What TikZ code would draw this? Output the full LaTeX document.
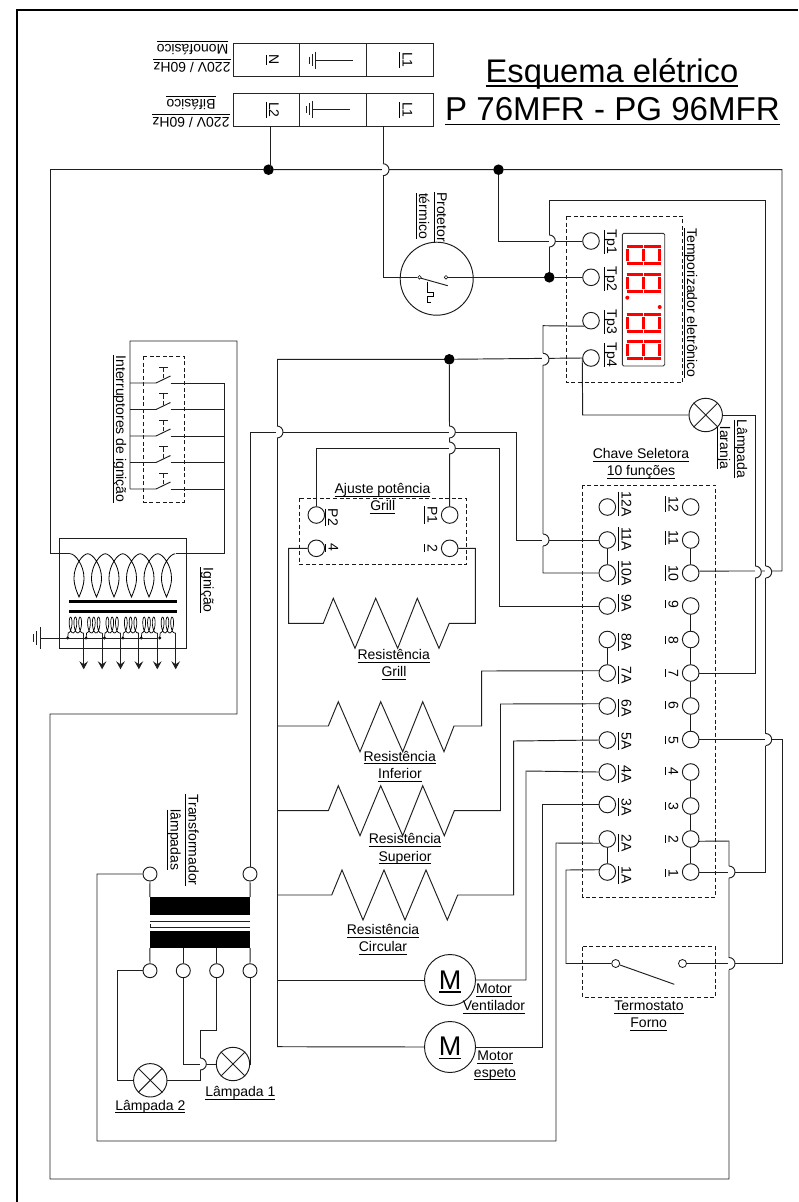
\documentclass[tikz,border=0pt]{standalone}
\usepackage{fontspec}
\setmainfont{Liberation Sans}
\usetikzlibrary{arrows.meta}
\newcommand\ulgen[3]{\setbox0\hbox{#3}\rlap{\vrule width\wd0 height -#1 depth #2}\box0}
\newcommand\ul[1]{\ulgen{2.2pt}{3.2pt}{#1}}
\newcommand\hop[2]{%
  \fill[white] (#1,#2-6) arc[start angle=-90,end angle=90,radius=6] -- cycle;
  \draw[white,line width=1.6pt] (#1,#2-6) -- (#1,#2+6);
  \draw[wire] (#1,#2-6) arc[start angle=-90,end angle=90,radius=6];}
\newcommand\dig[1]{%
  \foreach \qy in {#1+1.75,#1+18.25}{
    \draw[seg] (626.5,\qy) -- (642.7,\qy);
    \draw[seg] (644.3,\qy) -- (660.5,\qy);}
  \foreach \qx in {627.75,643.5,659.25}
    \draw[seg] (\qx,#1+4.3) -- (\qx,#1+15.7);}
\begin{document}
\begin{tikzpicture}[x=1pt,y=-1pt,
  wire/.style={line width=0.95pt,draw=black!88},
  thin wire/.style={line width=0.8pt,draw=black},
  link/.style={line width=1.4pt,draw=black!90},
  term/.style={circle,draw=black!90,line width=0.95pt,inner sep=0pt,minimum size=16.6pt},
  tsmall/.style={circle,draw=black!90,line width=0.95pt,inner sep=0pt,minimum size=14pt},
  contact/.style={circle,draw=black!90,line width=0.6pt,inner sep=0pt,minimum size=3.6pt},
  thermo/.style={circle,draw=black!90,line width=0.8pt,inner sep=0pt,minimum size=8pt},
  junction/.style={circle,fill=black,inner sep=0pt,minimum size=10.6pt},
  tinydot/.style={circle,fill=black,inner sep=0pt,minimum size=3.2pt},
  lamp/.style={circle,draw=black!90,line width=0.95pt,inner sep=0pt,minimum size=33.4pt},
  motor/.style={circle,draw=black!90,line width=0.95pt,inner sep=0pt,minimum size=51pt},
  cell/.style={rectangle,draw=black!85,line width=0.95pt,inner sep=0pt,minimum width=66.7pt,minimum height=33pt},
  corebar/.style={rectangle,fill=black,inner sep=0pt,minimum width=100pt,minimum height=17.2pt},
  dbox/.style={draw=black!90,line width=0.85pt,dash pattern=on 4pt off 2.6pt},
  lab/.style={inner sep=0pt,font=\fontsize{14}{17}\selectfont,text height=10pt,text depth=3pt},
  labr/.style={lab,rotate=-90},
  labf/.style={lab,rotate=180},
  titl/.style={inner sep=0pt,anchor=base},
  seg/.style={draw=red,line width=3.4pt},
  arrowwire/.style={wire,-{Stealth[length=8pt,width=8.6pt,inset=3pt]}}
]
\useasboundingbox (0,0) rectangle (798,1202);
% sheet border
\coordinate (frameA) at (17,1202); \coordinate (frameB) at (17,10); \coordinate (frameC) at (798,10);
\draw[line width=1.4pt] (frameA) -- (frameB) -- (frameC);

% title
\node[titl,font=\fontsize{32.7}{36}\selectfont] (title1) at (612,82) {\ulgen{3.2pt}{4.6pt}{Esquema elétrico}};
\node[titl,font=\fontsize{33.1}{36}\selectfont] (title2) at (612.5,120.7) {\ulgen{3.2pt}{4.6pt}{P 76MFR - PG 96MFR}};

% supply terminal strips
\node[cell] (monoN) at (266.5,60) {}; \node[cell] (monoG) at (333.2,60) {}; \node[cell] (monoL) at (399.8,60) {};
\node[cell] (biL2) at (266.5,109.7) {}; \node[cell] (biG) at (333.2,109.7) {}; \node[cell] (biL1) at (399.8,109.7) {};
\node[labr] (lN) at (272.5,60) {\ul{N}};
\node[labr] (lL1a) at (406,60) {\ul{L1}};
\node[labr] (lL2) at (272.5,110) {\ul{L2}};
\node[labr] (lL1b) at (406,110) {\ul{L1}};
\node[labf] (lV1) at (192,65.5) {\ul{220V / 60Hz}};
\node[labf] (lMono) at (192.5,48) {\ul{Monofásico}};
\node[labf] (lV2) at (191,120.5) {\ul{220V / 60Hz}};
\node[labf] (lBi) at (191,103) {\ul{Bifásico}};
% earth symbols in strips
\draw[wire] (315.5,60) -- (353,60);
\draw[wire] (315.5,51.5) -- (315.5,68.5); \draw[wire] (312.2,54) -- (312.2,66); \draw[wire] (309.2,56.5) -- (309.2,63.5);
\draw[wire] (312.5,109.3) -- (350,109.3);
\draw[wire] (312.5,100.8) -- (312.5,117.8); \draw[wire] (309.2,103.3) -- (309.2,115.3); \draw[wire] (306.2,105.8) -- (306.2,112.8);

% junctions
\node[junction] (j1) at (268.5,169.7) {};
\node[junction] (j2) at (498.5,169.7) {};
\node[junction] (j3) at (549.3,277.3) {};
\node[junction] (j4) at (449.3,359.3) {};

% thermal protector
\node[circle,draw=black!90,line width=0.95pt,inner sep=0pt,minimum size=73pt] (prot) at (436.7,278.7) {};
\node[contact] (pc1) at (419.5,277.3) {};
\node[contact] (pc2) at (446,277.3) {};
\coordinate (blade0) at (421,278.2); \coordinate (blade1) at (447.7,285.7);
\draw[wire] (blade0) -- (blade1);
\draw[line width=1.1pt] (427.7,281.5) -- (427.7,292.7) -- (433.3,292.7) -- (433.3,296.7) -- (427.7,296.7) -- (427.7,302.7) -- (431,302.7);
\node[labr] (lProt1) at (440.5,217) {\ul{Protetor}};
\node[labr] (lProt2) at (422.5,216) {\ul{térmico}};

% timer
\node[term] (Tp1) at (591,241) {};
\node[term] (Tp2) at (591,277.3) {};
\node[term] (Tp3) at (591,320.7) {};
\node[term] (Tp4) at (591,358) {};
\draw[dbox] (566,216) rectangle (682.7,382.3);
\foreach \t/\yy in {Tp1/242,Tp2/279,Tp3/322,Tp4/355}
  \node[labr] (l\t) at (610.5,\yy) {\ul{\t}};
\node[labr] (lTemp) at (690.5,303) {\ul{Temporizador eletrônico}};
\draw[draw=black!80,line width=0.9pt,rounded corners=1.5pt] (622.3,233.3) rectangle (664.7,366);
\dig{245} \dig{273} \dig{313} \dig{340}
\fill[red] (627.3,297.7) circle[radius=2];
\fill[red] (659.7,307) circle[radius=2];

% lamp orange
\node[lamp] (lampO) at (705.7,415) {};
\draw[wire] (lampO.45) -- (lampO.225); \draw[wire] (lampO.135) -- (lampO.315);
\node[labr] (lLam1) at (740.5,448.7) {\ul{Lâmpada}};
\node[labr] (lLam2) at (723.5,448) {\ul{laranja}};

% selector switch
\foreach \n/\yy in {12/507,11/540,10/573,9/606,8/639.5,7/673,6/706,5/740,4/772,3/804.5,2/839,1/872}
  \node[term] (A\n) at (607.3,\yy) {};
\foreach \n/\yy in {12/507,11/540,10/573,9/606,8/639.5,7/673,6/706,5/739.5,4/772,3/806,2/839,1/872}
  \node[term] (R\n) at (690.7,\yy) {};
\draw[dbox] (582.5,485) rectangle (715.5,897.5);
\foreach \t/\yy in {12A/504,11A/539,10A/573,9A/603,8A/642,7A/675,6A/708,5A/741,4A/774,3A/807,2A/843,1A/875}
  \node[labr] (l\t) at (625,\yy) {\ul{\t}};
\foreach \t/\yy in {12/504,11/538,10/573,9/604,8/640,7/673,6/705,5/740,4/771,3/806,2/839,1/873}
  \node[labr] (lr\t) at (672,\yy) {\ul{\t}};
\node[lab] (lChave1) at (641,455) {\ul{Chave Seletora}};
\node[lab] (lChave2) at (641,472) {\ul{10 funções}};
\draw[link] (A11) -- (A10); \draw[link] (A8) -- (A7); \draw[link] (A2) -- (A1);
\draw[link] (R11) -- (R10); \draw[link] (R9) -- (R8); \draw[link] (R8) -- (R7); \draw[link] (R7) -- (R6); \draw[link] (R6) -- (R5);
\draw[link] (R4) -- (R3); \draw[link] (R3) -- (R2); \draw[link] (R2) -- (R1);

% grill power adjust
\node[term] (P2) at (316.3,515) {};
\node[term] (P4) at (316.3,548.3) {};
\node[term] (P1) at (449.7,515) {};
\node[term] (Pb) at (449.7,548.3) {};
\draw[dbox] (299.5,498.3) rectangle (466.3,564.7);
\node[lab] (lAj1) at (382.5,490) {\ul{Ajuste potência}};
\node[lab] (lAj2) at (382.7,507) {\ul{Grill}};
\node[labr] (lP2) at (331.5,517.5) {\ul{P2}};
\node[labr] (lP4) at (332,547.7) {\ul{4}};
\node[labr] (lP1) at (431,515) {\ul{P1}};
\node[labr] (lPb) at (431,548) {\ul{2}};

% oven thermostat
\node[thermo] (TS1) at (615.7,963.5) {};
\node[thermo] (TS2) at (682.5,963.5) {};
\draw[dbox] (582.5,946.5) rectangle (715.5,997);
\coordinate (tsb0) at (620,965); \coordinate (tsb1) at (674.3,984.3);
\draw[wire] (tsb0) -- (tsb1);
\node[lab] (lTerm1) at (649,1007) {\ul{Termostato}};
\node[lab] (lTerm2) at (648.7,1024) {\ul{Forno}};

% motors
\node[motor] (M1) at (450,980) {};
\node[motor] (M2) at (450,1047) {};
\node[inner sep=0pt,anchor=base,font=\fontsize{27}{30}\selectfont] (M1t) at (450,989) {\ulgen{2.4pt}{3.6pt}{M}};
\node[inner sep=0pt,anchor=base,font=\fontsize{27}{30}\selectfont] (M2t) at (450,1055.5) {\ulgen{2.4pt}{3.6pt}{M}};
\node[lab] (lM1a) at (494,990) {\ul{Motor}};
\node[lab] (lM1b) at (494,1007) {\ul{Ventilador}};
\node[lab] (lM2a) at (495.3,1057) {\ul{Motor}};
\node[lab] (lM2b) at (495,1073.7) {\ul{espeto}};

% heater labels
\node[lab] (lRG1) at (393.7,656) {\ul{Resistência}};
\node[lab] (lRG2) at (394,673) {\ul{Grill}};
\node[lab] (lRI1) at (399.7,757.7) {\ul{Resistência}};
\node[lab] (lRI2) at (400,775) {\ul{Inferior}};
\node[lab] (lRS1) at (405,840) {\ul{Resistência}};
\node[lab] (lRS2) at (405,857.7) {\ul{Superior}};
\node[lab] (lRC1) at (383,931) {\ul{Resistência}};
\node[lab] (lRC2) at (383,948) {\ul{Circular}};

% lamp transformer
\node[tsmall] (TTL) at (150,874) {};
\node[tsmall] (TTR) at (250,874) {};
\node[tsmall] (TB1) at (150,970.7) {};
\node[tsmall] (TB2) at (183.3,970.7) {};
\node[tsmall] (TB3) at (216.7,970.7) {};
\node[tsmall] (TB4) at (250,970.7) {};
\node[corebar] (core1) at (200,906) {};
\node[corebar] (core2) at (200,939.2) {};
\coordinate (m1a) at (150,921); \coordinate (m1b) at (250,921);
\coordinate (m2b) at (250,927); \coordinate (m2c) at (150.7,924);
\draw[wire] (m1a) -- (m1b); \draw[wire] (m2c) |- (m2b);
\draw[wire] (TTL.south) -- (core1.north west);
\draw[wire] (TTR.south) -- (core1.north east);
\draw[wire] (TB1.north) -- (core2.south west);
\draw[wire] (TB2.north) -- (TB2.north|-core2.south);
\draw[wire] (TB3.north) -- (TB3.north|-core2.south);
\draw[wire] (TB4.north) -- (core2.south east);
\node[labr] (lTr1) at (192,840) {\ul{Transformador}};
\node[labr] (lTr2) at (174,840) {\ul{lâmpadas}};
\node[lamp] (lamp1) at (233,1064) {};
\node[lamp] (lamp2) at (150.3,1080.3) {};
\draw[wire] (lamp1.45) -- (lamp1.225); \draw[wire] (lamp1.135) -- (lamp1.315);
\draw[wire] (lamp2.45) -- (lamp2.225); \draw[wire] (lamp2.135) -- (lamp2.315);
\node[lab] (lL1t) at (240.3,1093) {\ul{Lâmpada 1}};
\node[lab] (lL2t) at (150.3,1106.7) {\ul{Lâmpada 2}};

% ignition switches
\draw[dbox] (143.5,356) rectangle (184,502);
\foreach \i/\yy in {1/383,2/409.5,3/436,4/462.5,5/489}{
  \coordinate (swL\i) at (130,\yy); \coordinate (swM\i) at (156,\yy);
  \coordinate (swT\i) at (170.5,\yy-7); \coordinate (swS\i) at (170.5,\yy); \coordinate (swR\i) at (224,\yy);
  \draw[wire] (swL\i) -- (swM\i) -- (swT\i);
  \draw[wire] (swS\i) -- (swR\i);
  \draw[wire] (159,\yy-16) -- (168,\yy-16);
  \draw[wire] (163.5,\yy-16) -- (163.5,\yy-11);
  \draw[wire] (163.5,\yy-9) -- (163.5,\yy-5);
}
\node[labr] (lInt) at (119.5,429) {\ul{Interruptores de ignição}};

% ignition transformer
\draw[wire] (59.5,538) rectangle (186.5,648.5);
\coordinate (coilL) at (70.2,553.7); \coordinate (coilR) at (175.5,553.7);
\foreach \cx in {79,96.5,114,131.5,149,166.5}
  \draw[thin wire] (\cx-8.8,553.7) .. controls (\cx-4,553.7) and (\cx+5,565) .. (\cx+5,578)
     .. controls (\cx+5,586) and (\cx+2,592) .. (\cx,597)
     .. controls (\cx-2,592) and (\cx-5,586) .. (\cx-5,578)
     .. controls (\cx-5,565) and (\cx+4,553.7) .. (\cx+8.8,553.7);
\coordinate (barA) at (69,601.5); \coordinate (barB) at (177,601.5);
\coordinate (barC) at (69,611.5); \coordinate (barD) at (177,611.5);
\draw[line width=3pt] (barA) -- (barB);
\draw[line width=3pt] (barC) -- (barD);
\foreach \i/\xs in {0/67.7,1/86.1,2/104.5,3/122.9,4/141.3,5/159.7}{
  \node[tinydot] (dot\i) at (\xs,638) {};
  \coordinate (sec\i) at (\xs+16,633); \coordinate (out\i) at (\xs+16,669.3);
  \draw[thin wire,line width=0.7pt] (dot\i) --
     plot[smooth,samples=45,domain=-3.1416:15.708,variable=\t] ({\xs+0.5+0.76*(\t+3.1416)-2.5*sin(\t r)},{625-8*cos(\t r)})
     -- (sec\i);
  \draw[arrowwire] (sec\i) -- (out\i);
}
\coordinate (gnd) at (40.5,638);
\draw[wire] (gnd) -- (dot5);
\draw[wire] (40.5,627) -- (40.5,648.5); \draw[wire] (36.8,631) -- (36.8,644.5); \draw[wire] (33.6,634) -- (33.6,642);
\node[labr] (lIgn) at (207,590) {\ul{Ignição}};

% ---- wiring ----
\coordinate (biL2out) at (270,126.3); \coordinate (biL1out) at (383,126.3);
\draw[wire] (biL2out) -- (270,169.7);
\draw[wire] (j1) -- (50,169.7) -- (50,553.7) -- (coilL);
\draw[wire] (j1) -- (j2) -- (782,169.7) -- (782,571) -- (R10.13);
\draw[wire] (j2) |- (Tp1.west);
\draw[wire] (biL1out) |- (pc1.west);
\draw[wire] (pc2.east) -- (j3) -- (Tp2.west);
\draw[wire] (j3) -- (549.3,200) -- (765.7,200) -- (765.7,872) -- (R1.east);
\draw[wire] (Tp3.219) -- (543,325.7) -- (543,573) -- (A10.west);
\coordinate (busTop) at (277,359.3);
\draw[wire] (busTop) -- (j4) -- (Tp4.west);
\draw[wire] (Tp4.west) -- (582.7,415) -- (lampO.west);
\draw[wire] (j4) -- (P1.north);
\draw[wire] (P2.north) -- (316.3,448) -- (499,448) -- (499,606) -- (A9.west);
\draw[wire] (TTR.north) -- (250,432) -- (516,432) -- (516,540) -- (A11.west);
\coordinate (busBot) at (277,1046.7);
\draw[wire] (busTop) -- (busBot);
\draw[wire] (P4.west) -- (288.7,548.3) -- (288.7,623.3) -- (323.3,623.3) -- (333.3,598.3) -- (355,648.3) -- (375.7,598.3) -- (397.7,648.3) -- (417.3,598.3) -- (439,648.3) -- (449.3,623.3) -- (475.3,623.3) -- (475.3,548.3) -- (Pb.east);
\coordinate (busI) at (277,726); \coordinate (busS) at (277,810.7); \coordinate (busC) at (277,895); \coordinate (busM) at (277,980);
\draw[wire] (busI) -- (328.3,726) -- (338.3,701.7) -- (360,751.7) -- (380.7,701.7) -- (402.7,751.7) -- (422.7,701.7) -- (444,751.7) -- (454,726) -- (481.7,726) -- (481.7,671) -- (A7.165);
\draw[wire] (busS) -- (328.3,810.7) -- (338.3,785.7) -- (360,835.7) -- (380.7,785.7) -- (402.7,835.7) -- (422.7,785.7) -- (444.3,835.7) -- (454.3,810.7) -- (500.5,810.7) -- (500.5,704) -- (A6.165);
\draw[wire] (busC) -- (331.7,895) -- (342,870) -- (363,920) -- (384,870) -- (405,920) -- (426,870) -- (447.3,920) -- (457.7,895) -- (513.7,895) -- (513.7,741) -- (A5.west);
\draw[wire] (busM) -- (M1.west);
\draw[wire] (M1.east) -- (526,980) -- (526,771) -- (A4.west);
\draw[wire] (busBot) -- (M2.west);
\draw[wire] (M2.east) -- (542.7,1047) -- (542.7,804.5) -- (A3.west);
\draw[wire] (A1.165) -- (566,870) -- (566,963.5) -- (TS1.west);
\draw[wire] (A2.209) -- (556,843) -- (556,1141) -- (97,1141) -- (97,874) -- (TTL.west);
\draw[wire] (TS2.east) -- (782,963.5) -- (782,739.5) -- (R5.east);
\draw[wire] (R7.east) -- (755.3,673) -- (755.3,415) -- (lampO.east);
\draw[wire] (R2.345) -- (729,841) -- (729,1179) -- (50,1179) -- (50,714) -- (237,714) -- (237,341) -- (130,341) -- (swL5);
\draw[wire] (swR1) -- (224,553.7) -- (coilR);
\draw[wire] (TB1.west) -- (117,970.7) -- (117,1080.3) -- (lamp2.west);
\draw[wire] (lamp2.east) -- (200.3,1080.3) -- (200.3,1030.3) -- (216.7,1030.3) -- (TB3.south);
\draw[wire] (TB2.south) -- (183.3,1064) -- (lamp1.west);
\draw[wire] (TB4.south) -- (250,1064) -- (lamp1.east);

% wire crossings
\hop{383}{169.7}
\hop{549.3}{241}
\hop{543}{359.3}
\hop{543}{540}
\hop{449.3}{432}
\hop{449.3}{448}
\hop{277}{432}
\hop{755.3}{572}
\hop{765.7}{572}
\hop{765.7}{739.5}
\hop{729}{872}
\hop{729}{963.5}
\hop{200.3}{1064}
\end{tikzpicture}
\end{document}
